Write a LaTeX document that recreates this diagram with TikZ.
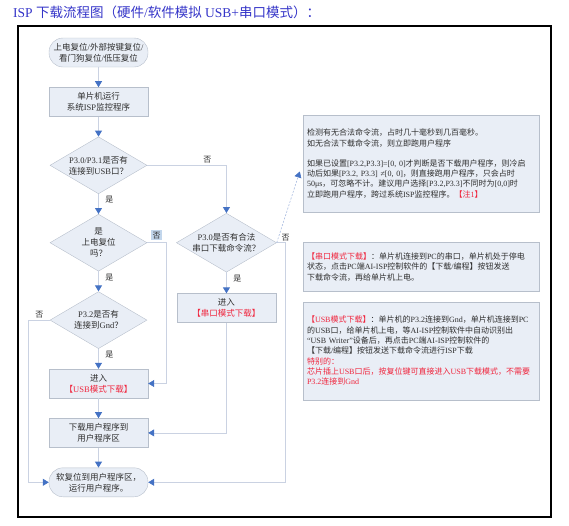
\documentclass[tikz,border=0pt]{standalone}
\usepackage{fontspec}
\setmainfont{Liberation Serif}
\newfontfamily\cjkfont{Noto Sans CJK SC}
\usetikzlibrary{arrows.meta,positioning,shapes.geometric}

% switch to the CJK font for Chinese runs
\newXeTeXintercharclass\cjkcls
\newcount\cjkc
\def\cjkrange#1#2{\cjkc=#1\relax
  \loop\XeTeXcharclass\cjkc=\cjkcls\relax
  \ifnum\cjkc<#2\relax\advance\cjkc by 1\repeat}
\cjkrange{"3000}{"303F}
\cjkrange{"4E00}{"9FFF}
\cjkrange{"FF00}{"FF60}
\XeTeXcharclass`“=0 \XeTeXcharclass`”=0
\newcommand\latfont{\rmfamily}
\XeTeXinterchartoks 0 \cjkcls={\cjkfont}
\XeTeXinterchartoks 4095 \cjkcls={\cjkfont}
\XeTeXinterchartoks \cjkcls 0={\latfont}
\XeTeXinterchartoks \cjkcls 4095={\latfont}
\XeTeXinterchartokenstate=1

\definecolor{boxfill}{HTML}{E9EEF6}
\definecolor{boxline}{HTML}{B7BFCB}
\definecolor{wire}{HTML}{CAD2E2}
\definecolor{tipblue}{HTML}{4472C4}
\definecolor{alert}{HTML}{F0243C}
\definecolor{txtgray}{HTML}{2E2E2E}
\definecolor{titleblue}{HTML}{3434C8}
\definecolor{nohl}{HTML}{C2D6EC}
\definecolor{hintline}{HTML}{A9BCE0}

\begin{document}
\begin{tikzpicture}[x=1pt, y=-1pt,
  node distance=20pt,
  every node/.style={font=\fontsize{8.5}{11}\selectfont, text=txtgray},
  proc/.style={draw=boxline, fill=boxfill, align=center, minimum width=99pt,
               minimum height=29pt, inner sep=2pt},
  term/.style={proc, rounded corners=14pt},
  ask/.style={diamond, draw=boxline, fill=boxfill, align=center, minimum width=97pt,
              minimum height=57pt, inner sep=0pt, shape aspect=1.7},
  note/.style={draw=boxline, fill=boxfill, align=left, text width=228pt,
               minimum width=236pt, inner sep=4pt, font=\fontsize{8}{10.3}\selectfont},
  flow/.style={draw=wire, line width=0.8pt, -{Triangle[length=6pt, width=7pt, color=tipblue]}},
  hint/.style={draw=hintline, line width=0.6pt, dash pattern=on 2pt off 1.5pt,
               -{Triangle[length=6pt, width=7pt, color=tipblue]}},
  yn/.style={font=\fontsize{8}{10}\selectfont, inner sep=1.5pt}]
\useasboundingbox (0,0) rectangle (569,525);
\node[anchor=west, inner sep=0pt, font=\fontsize{13.5}{15}\selectfont, text=titleblue] (title)
  at (13,12) {ISP 下载流程图（硬件/软件模拟 USB+串口模式）：};
\draw[line width=1.2pt, black] (18,26) rectangle (551,517);
% main column
\node[term] (boot) at (98.5,52.5) {上电复位/外部按键复位/\\看门狗复位/低压复位};
\node[proc, below=of boot] (isp) {单片机运行\\系统ISP监控程序};
\node[ask, below=of isp] (usbq) {P3.0/P3.1是否有\\连接到USB口？};
\node[ask, below=of usbq] (por) {是\\上电复位\\吗？};
\node[ask, below=of por] (gndq) {P3.2是否有\\连接到Gnd？};
\node[proc, below=of gndq] (usbdl) {进入\\\textcolor{alert}{【USB模式下载】}};
\node[proc, below=of usbdl] (prog) {下载用户程序到\\用户程序区};
\node[term, below=of prog] (run) {软复位到用户程序区，\\运行用户程序。};
% serial column
\node[ask, right=29pt of por] (uartq) {P3.0是否有合法\\串口下载命令流？};
\node[proc, below=21pt of uartq] (uartdl) {进入\\\textcolor{alert}{【串口模式下载】}};
% notes
\node[note, minimum height=97pt] (note1) at (421,163.5) {检测有无合法命令流，占时几十毫秒到几百毫秒。\\
  如无合法下载命令流，则立即跑用户程序\\[10pt]
  如果已设置[P3.2,P3.3]=[0, 0]才判断是否下载用户程序，则冷启\\
  动后如果[P3.2, P3.3] ≠[0, 0]，则直接跑用户程序，只会占时\\
  50μs，可忽略不计。建议用户选择[P3.2,P3.3]不同时为[0,0]时\\
  立即跑用户程序，跨过系统ISP监控程序。\textcolor{alert}{【注1】}};
\node[note, minimum height=49pt, below=30pt of note1] (note2) {\textcolor{alert}{【串口模式下载】}：单片机连接到PC的串口，单片机处于停电\\
  状态，点击PC端AI-ISP控制软件的【下载/编程】按钮发送\\
  下载命令流，再给单片机上电。};
\node[note, minimum height=98pt, below=10pt of note2] (note3) {\textcolor{alert}{【USB模式下载】}：单片机的P3.2连接到Gnd，单片机连接到PC\\
  的USB口，给单片机上电，等AI-ISP控制软件中自动识别出\\
  “USB Writer”设备后，再点击PC端AI-ISP控制软件的\\
  【下载/编程】按钮发送下载命令流进行ISP下载\\
  \textcolor{alert}{特别的：}\\
  \textcolor{alert}{芯片插上USB口后，按复位键可直接进入USB下载模式，不需要}\\
  \textcolor{alert}{P3.2连接到Gnd}};
% connectors
\draw[flow] (boot) -- (isp);
\draw[flow] (isp) -- (usbq);
\draw[flow] (usbq) -- node[yn, right=5pt, pos=0.3] {是} (por);
\draw[flow] (usbq.east) -| node[yn, above, pos=0.38] {否} (uartq.north);
\draw[flow] (por) -- node[yn, right=5pt, pos=0.3] {是} (gndq);
\draw[flow] (por.east) -- ++(19,0) node[yn, midway, above=2pt, fill=nohl] {否} |- (usbdl.east);
\draw[flow] (gndq) -- node[yn, right=5pt, pos=0.3] {是} (usbdl);
\draw[flow] (gndq.west) -- ++(-21,0) node[yn, midway, above] {否} |- (run.west);
\draw[flow] (usbdl) -- (prog);
\draw[flow] (prog) -- (run);
\draw[flow] (uartq) -- node[yn, right=5pt, pos=0.3] {是} (uartdl);
\draw[flow] (uartdl.south) |- (prog.east);
\draw[flow] (uartq.east) -- ++(9,0) node[yn, above] {否} |- (run.east);
\draw[hint] (uartq.east) -- ([xshift=-3pt, yshift=-8pt]note1.west);
\end{tikzpicture}
\end{document}
